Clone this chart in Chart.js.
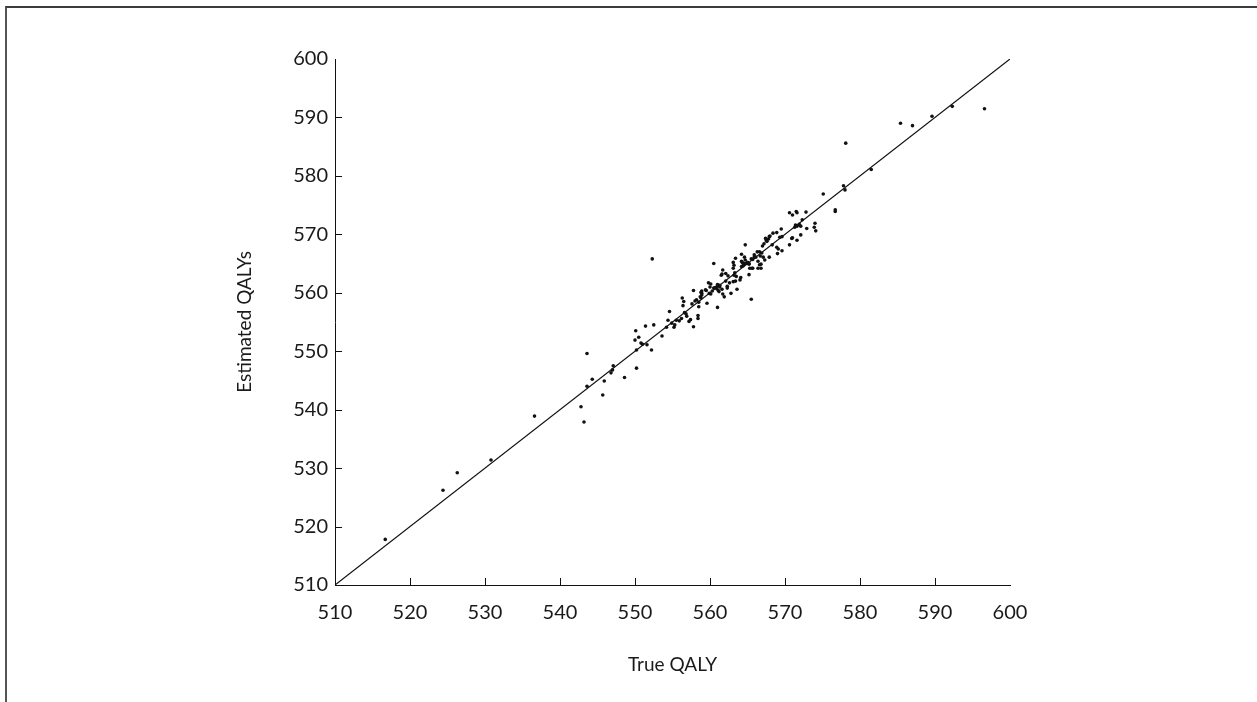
<!DOCTYPE html>
<html>
<head>
<meta charset="utf-8">
<script src="https://cdn.jsdelivr.net/npm/chart.js@4.4.1/dist/chart.umd.min.js"></script>
<style>
  html, body { margin: 0; padding: 0; background: #fff; overflow: hidden; }
  #wrap { position: relative; width: 1257px; height: 702px; }
  #frame { position: absolute; left: 5px; top: 6px; width: 1300px; height: 800px;
           border-top: 2px solid #3c3c3c; border-left: 2px solid #555; }
  canvas { position: absolute; left: 0; top: 0; }
</style>
</head>
<body>
<div id="wrap">
  <div id="frame"></div>
  <canvas id="myChart"></canvas>
</div>
<script>
// true vs estimated QALY
const trueQaly = [
  516.7, 524.4, 526.3, 530.8, 536.6, 542.8, 543.2, 543.6, 543.6, 544.3,
  545.7, 545.9, 546.8, 547.0, 547.1, 548.6, 550.2, 550.1, 550.0, 550.5,
  550.2, 550.8, 551.0, 551.6, 551.4, 552.2, 552.5, 552.3, 553.6, 554.2,
  554.6, 554.4, 554.9, 555.2, 555.3, 555.5, 555.9, 556.2, 556.8, 556.6,
  556.9, 556.3, 556.5, 556.4, 557.2, 557.4, 557.8, 557.6, 557.8, 558.0,
  558.2, 558.4, 558.4, 558.5, 558.5, 558.8, 558.9, 558.7, 558.9, 558.8,
  559.5, 559.6, 559.8, 560.1, 560.3, 560.5, 560.7, 560.9, 561.0, 561.3,
  561.0, 561.1, 561.2, 561.3, 560.0, 559.4, 558.9, 559.9, 560.1, 561.0,
  560.5, 561.5, 561.6, 561.6, 561.7, 561.9, 561.7, 562.1, 562.4, 562.1,
  562.3, 562.3, 562.6, 562.8, 563.1, 563.4, 563.3, 563.2, 563.5, 563.6,
  564.1, 564.0, 563.4, 563.1, 563.2, 563.1, 564.2, 564.3, 564.5, 564.8,
  565.0, 565.2, 564.6, 564.2, 564.4, 564.7, 564.2, 564.6, 564.7, 565.2,
  565.3, 565.6, 565.7, 565.5, 565.2, 565.5, 565.7, 565.9, 565.9, 566.1,
  566.3, 566.6, 566.9, 566.7, 566.4, 566.6, 566.4, 566.8, 566.8, 567.1,
  567.3, 567.0, 567.2, 567.4, 567.5, 567.6, 567.8, 567.9, 567.9, 568.0,
  568.3, 568.4, 568.9, 568.9, 569.1, 569.0, 569.6, 569.3, 569.5, 569.6,
  570.6, 570.6, 570.9, 571.0, 571.0, 571.3, 571.4, 571.5, 571.6, 571.6,
  571.6, 571.9, 572.1, 572.1, 572.3, 572.8, 572.9, 573.9, 574.0, 574.1,
  575.1, 576.7, 576.7, 577.8, 578.0, 578.1, 581.5, 585.4, 587.0, 589.6,
  592.3, 596.6
];
const estQaly = [
  517.8, 526.2, 529.2, 531.4, 538.9, 540.5, 537.9, 549.6, 544.0, 545.2,
  542.5, 544.9, 546.3, 546.8, 547.5, 545.5, 547.1, 553.5, 551.9, 552.4,
  550.2, 551.4, 551.2, 551.1, 554.3, 550.2, 554.5, 565.8, 552.6, 554.1,
  556.8, 555.3, 554.8, 554.1, 554.5, 555.3, 555.2, 555.6, 556.4, 556.6,
  556.0, 559.1, 558.5, 557.8, 555.1, 555.4, 554.2, 558.1, 560.4, 558.6,
  558.8, 556.1, 555.6, 557.6, 558.4, 559.1, 560.3, 559.3, 559.6, 560.1,
  560.4, 558.2, 561.7, 561.5, 560.3, 560.8, 560.9, 560.7, 561.2, 561.3,
  561.4, 560.4, 560.2, 561.0, 561.0, 560.5, 559.9, 559.9, 559.8, 557.5,
  565.0, 563.0, 563.2, 560.6, 559.8, 559.3, 563.9, 563.3, 562.9, 562.0,
  561.1, 560.8, 561.7, 559.9, 561.9, 562.0, 563.4, 563.0, 562.8, 560.6,
  562.6, 562.2, 565.9, 565.2, 564.7, 564.2, 565.4, 565.2, 564.8, 565.0,
  565.2, 564.9, 565.0, 564.5, 564.6, 568.2, 566.6, 566.1, 565.6, 563.1,
  564.2, 564.2, 564.2, 558.9, 565.0, 565.8, 565.7, 566.1, 566.5, 566.1,
  567.0, 567.0, 566.8, 566.3, 565.4, 564.8, 564.2, 564.2, 564.9, 566.1,
  565.6, 568.0, 568.4, 569.3, 568.9, 568.8, 569.2, 569.6, 566.1, 569.7,
  568.2, 570.2, 570.3, 567.8, 567.5, 566.7, 567.2, 569.5, 570.9, 569.6,
  568.2, 573.7, 569.3, 573.3, 569.4, 571.2, 571.6, 573.9, 573.7, 571.4,
  569.0, 571.7, 571.4, 569.9, 572.5, 573.8, 571.0, 571.2, 571.9, 570.6,
  576.9, 574.2, 573.9, 578.3, 577.6, 585.6, 581.1, 589.0, 588.6, 590.2,
  591.9, 591.5
];
const refLine = [510, 600];
const axisMin = 510;
const axisMax = 600;
const axisStep = 10;

const points = trueQaly.map((x, i) => ({ x: x, y: estQaly[i] }));
const diag = refLine.map((v) => ({ x: v, y: v }));

// ticks in this figure point into the plot, chart.js draws them outside
const innerTicks = {
  id: "innerTicks",
  afterDraw(chart) {
    const ctx = chart.ctx;
    const xs = chart.scales.x;
    const ys = chart.scales.y;
    const len = 7;
    ctx.save();
    ctx.strokeStyle = "#111";
    ctx.lineWidth = 1;
    ctx.beginPath();
    xs.ticks.forEach((t) => {
      if (t.value <= axisMin || t.value >= axisMax) return;
      const px = Math.round(xs.getPixelForValue(t.value)) + 0.5;
      ctx.moveTo(px, ys.bottom);
      ctx.lineTo(px, ys.bottom - len);
    });
    ys.ticks.forEach((t) => {
      if (t.value <= axisMin || t.value >= axisMax) return;
      const py = Math.round(ys.getPixelForValue(t.value)) + 0.5;
      ctx.moveTo(xs.left, py);
      ctx.lineTo(xs.left + len, py);
    });
    ctx.stroke();
    ctx.restore();
  },
};

const tickFont = { family: "Lato", size: 20 };
const titleFont = { family: "Lato", size: 19 };

const config = {
  type: "scatter",
  data: {
    datasets: [
      {
        label: "Estimated",
        data: points,
        backgroundColor: "#111",
        borderColor: "#111",
        pointRadius: 1.8,
        pointBorderWidth: 0,
      },
      {
        label: "y = x",
        data: diag,
        showLine: true,
        borderColor: "#111",
        borderWidth: 1.2,
        pointRadius: 0,
        fill: false,
      },
    ],
  },
  options: {
    responsive: true,
    maintainAspectRatio: false,
    animation: false,
    events: [],
    layout: { padding: { left: 233, right: 247, top: 59, bottom: 26 } },
    plugins: { legend: { display: false }, tooltip: { enabled: false } },
    scales: {
      x: {
        type: "linear",
        min: axisMin,
        max: axisMax,
        afterFit(scale) { scale.height = 91; },
        ticks: { stepSize: axisStep, color: "#1a1a1a", font: tickFont, padding: 16, maxRotation: 0 },
        grid: { display: false, drawTicks: false },
        border: { display: true, color: "#111", width: 1 },
        title: { display: true, text: "True QALY", color: "#1a1a1a", font: titleFont, padding: 0 },
      },
      y: {
        type: "linear",
        min: axisMin,
        max: axisMax,
        afterFit(scale) { scale.width = 102; },
        ticks: { stepSize: axisStep, color: "#1a1a1a", font: tickFont, padding: 7 },
        grid: { display: false, drawTicks: false },
        border: { display: true, color: "#111", width: 1 },
        title: { display: true, text: "Estimated QALYs", color: "#1a1a1a", font: titleFont, padding: 0 },
      },
    },
  },
  plugins: [innerTicks],
};

var myChart = new Chart(document.getElementById("myChart"), config);
</script>
</body>
</html>
